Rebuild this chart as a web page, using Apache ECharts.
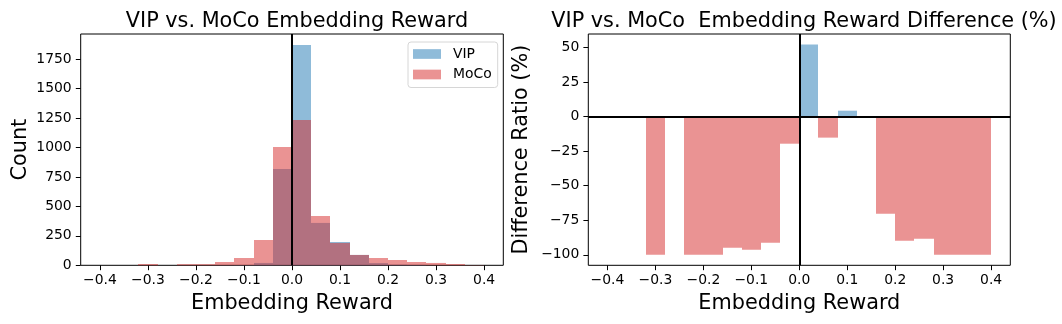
<!DOCTYPE html>
<html>
<head>
<meta charset="utf-8">
<script src="https://cdn.jsdelivr.net/npm/echarts@6/dist/echarts.min.js"></script>
<style>
  html, body { margin: 0; padding: 0; background: #fff; }
  #chart { width: 1062px; height: 324px; }
</style>
</head>
<body>
<div id="chart"></div>
<script>
// histogram bins: 20 bins of width 0.04 from -0.4 to 0.4
const binStart = -0.4;
const binWidth = 0.04;
const vipCounts = [0, 0, 0, 0, 0, 0, 1, 2, 20, 818, 1871, 360, 198, 88, 19, 5, 3, 0, 0, 0];
const mocoCounts = [0, 0, 11, 0, 10, 10, 28, 62, 215, 1005, 1234, 419, 190, 88, 62, 45, 28, 20, 11, 2];
// (VIP - MoCo) / MoCo in %, null where the bin is empty
const diffRatio = [null, null, -100, null, -100, -100, -94.9, -96.4, -91.3, -19.6, 52.2, -15.2, 4.3, 0, -70.3, -89.9, -88.4, -100, -100, -100];

const xTicks = [-0.4, -0.3, -0.2, -0.1, 0, 0.1, 0.2, 0.3, 0.4];
const countTicks = [0, 250, 500, 750, 1000, 1250, 1500, 1750];
const ratioTicks = [-100, -75, -50, -25, 0, 25, 50];

const FONT = "DejaVu Sans";
const blue = "rgba(31,119,180,0.5)";
const red = "rgba(214,39,40,0.5)";

function binData(values, keep) {
  const out = [];
  values.forEach((v, i) => {
    if (v === null) return;
    if (keep && !keep(v)) return;
    const x0 = +(binStart + i * binWidth).toFixed(2);
    out.push([x0, +(x0 + binWidth).toFixed(2), v]);
  });
  return out;
}

// snap bar edges to whole pixels so neighbouring bins join without seams
function renderBar(params, api) {
  const p0 = api.coord([api.value(0), 0]);
  const p1 = api.coord([api.value(1), api.value(2)]);
  const xa = Math.round(p0[0]), xb = Math.round(p1[0]);
  return {
    type: "rect",
    shape: {
      x: xa,
      y: Math.min(p0[1], p1[1]),
      width: xb - xa,
      height: Math.abs(p1[1] - p0[1])
    },
    style: api.style()
  };
}

const minus = s => s.replace("-", "\u2212");

function xAxis(gridIndex) {
  return {
    type: "value", gridIndex: gridIndex, min: -0.44, max: 0.44,
    name: "Embedding Reward", nameLocation: "middle", nameGap: 28,
    nameTextStyle: { fontFamily: FONT, fontSize: 20.8, color: "#000" },
    axisLine: { show: false, onZero: false },
    splitLine: { show: false },
    axisTick: { show: true, length: 4.9, customValues: xTicks, lineStyle: { color: "#000", width: 1 } },
    axisLabel: {
      customValues: xTicks, margin: 8, fontFamily: FONT, fontSize: 13.9, color: "#000",
      formatter: v => minus(v.toFixed(1))
    }
  };
}

function yAxis(gridIndex, min, max, ticks, name, gap) {
  return {
    type: "value", gridIndex: gridIndex, min: min, max: max,
    name: name, nameLocation: "middle", nameGap: gap,
    nameTextStyle: { fontFamily: FONT, fontSize: 20.8, color: "#000" },
    axisLine: { show: false, onZero: false },
    splitLine: { show: false },
    axisTick: { show: true, length: 4.9, customValues: ticks, lineStyle: { color: "#000", width: 1 } },
    axisLabel: {
      customValues: ticks, margin: 9, fontFamily: FONT, fontSize: 13.9, color: "#000",
      formatter: v => minus(String(v))
    }
  };
}

const chart = echarts.init(document.getElementById("chart"), null, { renderer: "canvas" });
chart.setOption({
  animation: false,
  backgroundColor: "#fff",
  textStyle: { fontFamily: FONT },
  title: [
    {
      text: "VIP vs. MoCo Embedding Reward", left: 292, top: 6, textAlign: "center",
      textStyle: { fontFamily: FONT, fontSize: 20.8, fontWeight: "normal", color: "#000" }
    },
    {
      text: "VIP vs. MoCo  Embedding Reward Difference (%)", left: 799, top: 6, textAlign: "center",
      textStyle: { fontFamily: FONT, fontSize: 20.8, fontWeight: "normal", color: "#000" }
    }
  ],
  legend: {
    data: ["VIP", "MoCo"], orient: "vertical",
    left: 408, top: 42, width: 88,
    padding: [5, 6, 6, 5], itemGap: 6.5,
    itemWidth: 28, itemHeight: 9.7, icon: "rect",
    borderColor: "#d6d6d6", borderWidth: 1, borderRadius: 3, backgroundColor: "rgba(255,255,255,0.8)",
    textStyle: { fontFamily: FONT, fontSize: 13.9, color: "#000", padding: [0, 0, 0, 7] }
  },
  grid: [
    { left: 80.7, top: 34, width: 422.6, height: 231.3, show: true, borderColor: "#000", borderWidth: 1, backgroundColor: "transparent" },
    { left: 588.3, top: 34, width: 422, height: 231.3, show: true, borderColor: "#000", borderWidth: 1, backgroundColor: "transparent" }
  ],
  xAxis: [xAxis(0), xAxis(1)],
  yAxis: [
    yAxis(0, 0, 1965, countTicks, "Count", 50),
    yAxis(1, -107.6, 59.8, ratioTicks, "Difference Ratio (%)", 56)
  ],
  series: [
    {
      name: "VIP", type: "custom", xAxisIndex: 0, yAxisIndex: 0,
      renderItem: renderBar, encode: { x: [0, 1], y: 2 },
      itemStyle: { color: blue }, data: binData(vipCounts)
    },
    {
      name: "MoCo", type: "custom", xAxisIndex: 0, yAxisIndex: 0,
      renderItem: renderBar, encode: { x: [0, 1], y: 2 },
      itemStyle: { color: red }, data: binData(mocoCounts),
      markLine: {
        symbol: "none", silent: true, animation: false,
        label: { show: false },
        lineStyle: { color: "#000", width: 2, type: "solid", opacity: 1 },
        data: [{ xAxis: 0 }]
      }
    },
    {
      name: "VIP higher", type: "custom", xAxisIndex: 1, yAxisIndex: 1,
      renderItem: renderBar, encode: { x: [0, 1], y: 2 },
      itemStyle: { color: blue }, data: binData(diffRatio, v => v > 0)
    },
    {
      name: "MoCo higher", type: "custom", xAxisIndex: 1, yAxisIndex: 1,
      renderItem: renderBar, encode: { x: [0, 1], y: 2 },
      itemStyle: { color: red }, data: binData(diffRatio, v => v < 0)
    },
    {
      name: "zero lines", type: "line", xAxisIndex: 1, yAxisIndex: 1, data: [],
      markLine: {
        symbol: "none", silent: true, animation: false,
        label: { show: false },
        lineStyle: { color: "#000", width: 2, type: "solid", opacity: 1 },
        data: [{ xAxis: 0 }, { yAxis: 0 }]
      }
    }
  ]
});
</script>
</body>
</html>
